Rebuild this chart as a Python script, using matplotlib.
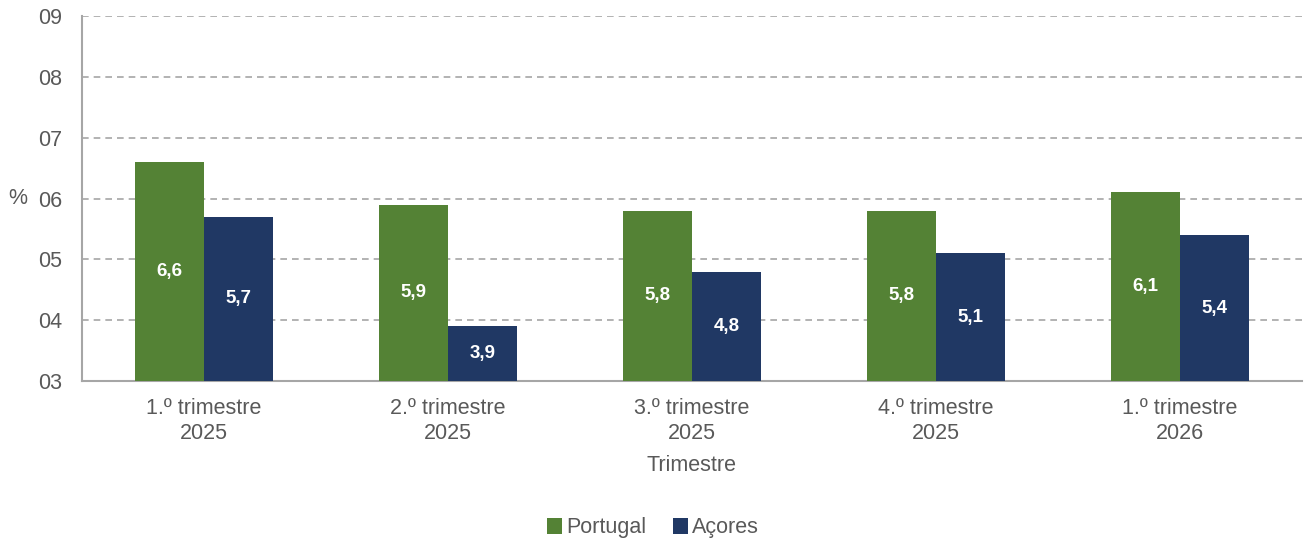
import numpy as np
import matplotlib.pyplot as plt

plt.rcParams['font.family'] = ['Liberation Sans', 'DejaVu Sans']

categories = ['1.º trimestre\n2025', '2.º trimestre\n2025', '3.º trimestre\n2025',
              '4.º trimestre\n2025', '1.º trimestre\n2026']
portugal = [6.6, 5.9, 5.8, 5.8, 6.1]
acores = [5.7, 3.9, 4.8, 5.1, 5.4]
yticks = [3, 4, 5, 6, 7, 8, 9]
ytick_labels = ['03', '04', '05', '06', '07', '08', '09']

green = '#548235'
navy = '#203864'
grey_text = '#595959'

fig = plt.figure(figsize=(13.06, 5.43), dpi=100)
ax = fig.add_axes([0.0628, 0.2983, 0.934, 0.672])

x = np.arange(len(categories))
w = 0.283
bars_pt = ax.bar(x - w / 2, portugal, w, bottom=0, color=green, label='Portugal', zorder=3)
bars_ac = ax.bar(x + w / 2, acores, w, bottom=0, color=navy, label='Açores', zorder=3)

ymin = 3
for bars, vals in [(bars_pt, portugal), (bars_ac, acores)]:
    for b, v in zip(bars, vals):
        ax.text(b.get_x() + b.get_width() / 2, (ymin + v) / 2, f'{v:.1f}'.replace('.', ','),
                ha='center', va='center', color='white', fontsize=13.5, fontweight='bold', zorder=4)

ax.set_xlim(-0.5, len(categories) - 0.5)
ax.set_ylim(3, 9)
ax.set_yticks(yticks)
ax.set_yticklabels(ytick_labels)
ax.set_xticks(x)
ax.set_xticklabels(categories, linespacing=1.25)
ax.tick_params(axis='both', length=0, labelsize=15.5, labelcolor=grey_text)
ax.tick_params(axis='y', pad=14)
ax.tick_params(axis='x', pad=12)

ax.yaxis.grid(True, linestyle=(0, (4, 3)), color='#A6A6A6', linewidth=1.2, zorder=0)
for s in ['top', 'right']:
    ax.spines[s].set_visible(False)
for s in ['left', 'bottom']:
    ax.spines[s].set_color('#A6A6A6')
    ax.spines[s].set_linewidth(1.5)

ax.set_xlabel('Trimestre', fontsize=15.5, color=grey_text, labelpad=8)
fig.text(18 / 1306, 1 - 198 / 543, '%', fontsize=15.5, color=grey_text, ha='center', va='center')

fig.legend(loc='center', bbox_to_anchor=(0.5, 1 - 528 / 543), ncol=2, frameon=False,
           fontsize=15.5, labelcolor=grey_text, handlelength=0.7, handleheight=0.7,
           handletextpad=0.2, columnspacing=1.2)

fig.savefig('out.png', dpi=100)
